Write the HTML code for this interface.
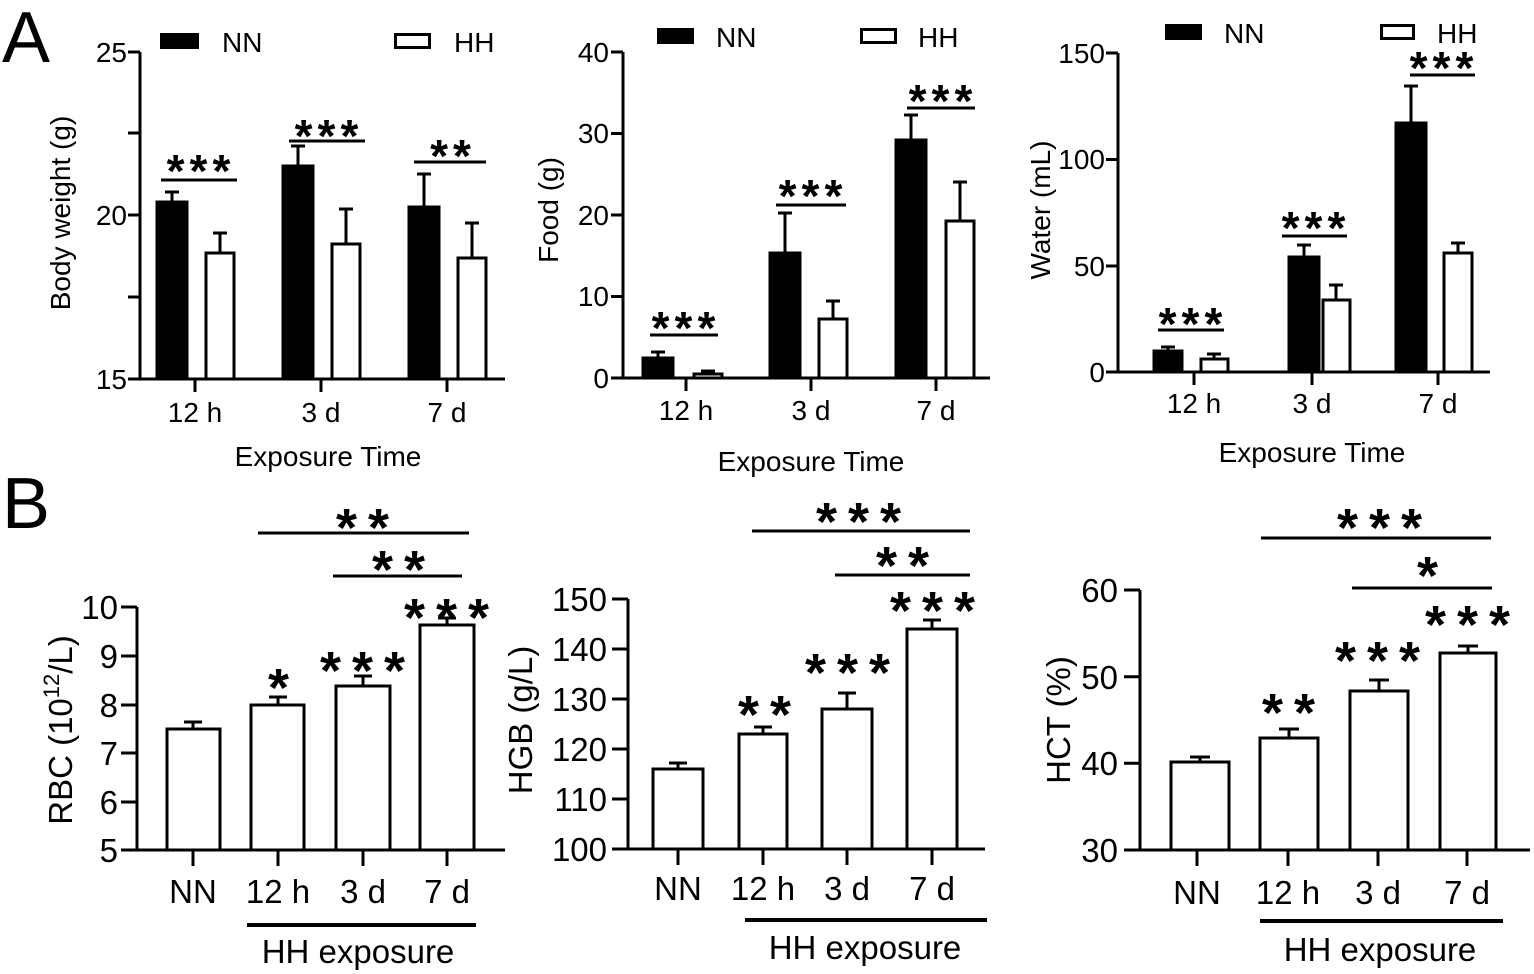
<!DOCTYPE html>
<html><head><meta charset="utf-8"><style>
html,body{margin:0;padding:0;background:#fff}
svg{display:block}
text{font-family:"Liberation Sans",Arial,sans-serif;fill:#000}
.t text,text.t{font-size:28px}
.tb text{font-size:33px}
.sa text{font-size:46px;font-weight:bold;letter-spacing:5px}
.sb text{font-size:54px;font-weight:bold;letter-spacing:11px}
</style></head><body>
<svg width="1534" height="974" viewBox="0 0 1534 974" xmlns="http://www.w3.org/2000/svg">
<g stroke="#000" fill="none" stroke-width="3">
<path d="M140 52V379H505M128 52H140M128 133H140M128 215H140M128 297H140M128 379H140M195 379V392M321 379V392M447 379V392"/>
<rect x="157" y="202" width="30" height="177" fill="#000"/>
<rect x="206" y="253" width="28" height="126"/>
<rect x="283" y="166" width="30" height="213" fill="#000"/>
<rect x="332" y="244" width="28" height="135"/>
<rect x="409" y="207" width="30" height="172" fill="#000"/>
<rect x="458" y="258" width="28" height="121"/>
<path d="M172 202V192M165 192H179M220 253V233M213 233H227M298 166V146M291 146H305M346 244V209M339 209H353M424 207V174M417 174H431M472 258V223M465 223H479"/>
<path d="M161 180H237M289 141H365M414 162H486"/>
<path d="M623 52V378H990M611 52H623M611 133.5H623M611 215H623M611 296.5H623M611 378H623M686 378V391M811 378V391M936 378V391"/>
<rect x="643" y="358" width="30" height="20" fill="#000"/>
<rect x="694" y="374" width="28" height="4"/>
<rect x="770" y="253" width="30" height="125" fill="#000"/>
<rect x="819" y="319" width="28" height="59"/>
<rect x="896" y="140" width="30" height="238" fill="#000"/>
<rect x="946" y="221" width="28" height="157"/>
<path d="M658 358V352M651 352H665M708 374V371M701 371H715M785 253V213M778 213H792M833 319V301M826 301H840M911 140V115M904 115H918M960 221V182M953 182H967"/>
<path d="M650 335H718M776 205H846M907 108H975"/>
<path d="M1118 53V372H1490M1106 53H1118M1106 159.5H1118M1106 266H1118M1106 372H1118M1194 372V385M1312 372V385M1438 372V385"/>
<rect x="1154" y="351" width="28" height="21" fill="#000"/>
<rect x="1201" y="359" width="27" height="13"/>
<rect x="1289" y="257" width="30" height="115" fill="#000"/>
<rect x="1323" y="300" width="27" height="72"/>
<rect x="1396" y="123" width="30" height="249" fill="#000"/>
<rect x="1444" y="253" width="28" height="119"/>
<path d="M1168 351V347M1161 347H1175M1214 359V354M1207 354H1221M1304 257V245M1297 245H1311M1336 300V285M1329 285H1343M1411 123V86M1404 86H1418M1458 253V243M1451 243H1465"/>
<path d="M1158 330H1224M1282 236H1347M1410 75H1475"/>
<path d="M137 607V850H505M121 607H137M121 656H137M121 705H137M121 753H137M121 802H137M121 850H137M193 850V866M278 850V866M363 850V866M447 850V866"/>
<rect x="167" y="729" width="53" height="121"/>
<rect x="251" y="705" width="53" height="145"/>
<rect x="336" y="686" width="54" height="164"/>
<rect x="420" y="625" width="54" height="225"/>
<path d="M193 729V722M184 722H202M278 705V697M269 697H287M363 686V676M354 676H372M447 625V618M438 618H456"/>
<path d="M258 533H469M333 576H462"/>
<path d="M247 925H476" stroke-width="4"/>
<path d="M628 599V849H985M612 599H628M612 649H628M612 699H628M612 749H628M612 799H628M612 849H628M678 849V865M763 849V865M847 849V865M932 849V865"/>
<rect x="653" y="769" width="50" height="80"/>
<rect x="739" y="734" width="48" height="115"/>
<rect x="822" y="709" width="50" height="140"/>
<rect x="907" y="629" width="50" height="220"/>
<path d="M678 769V763M669 763H687M763 734V727M754 727H772M847 709V693M838 693H856M932 629V620M923 620H941"/>
<path d="M752 531H970M835 575H970"/>
<path d="M745 920H987" stroke-width="4"/>
<path d="M1140 590V850H1530M1124 590H1140M1124 676.7H1140M1124 763.3H1140M1124 850H1140M1197 850V866M1288 850V866M1378 850V866M1467 850V866"/>
<rect x="1171" y="762" width="58" height="88"/>
<rect x="1260" y="738" width="58" height="112"/>
<rect x="1350" y="691" width="58" height="159"/>
<rect x="1440" y="653" width="56" height="197"/>
<path d="M1200 762V757M1190 757H1210M1289 738V729M1279 729H1299M1379 691V680M1369 680H1389M1468 653V646M1458 646H1478"/>
<path d="M1261 538H1491M1352 588H1492"/>
<path d="M1260 921H1503" stroke-width="4"/>
</g>
<rect x="160" y="33" width="39" height="16" fill="#000"/>
<rect x="395.5" y="34.5" width="34" height="13" fill="none" stroke="#000" stroke-width="3"/>
<rect x="657" y="28" width="37" height="16" fill="#000"/>
<rect x="861.5" y="29.5" width="34" height="13" fill="none" stroke="#000" stroke-width="3"/>
<rect x="1165" y="24" width="37" height="16" fill="#000"/>
<rect x="1381.5" y="25.5" width="32" height="13" fill="none" stroke="#000" stroke-width="3"/>
<g class="t">
<text x="222" y="52">NN</text><text x="454" y="52">HH</text>
<text x="716" y="47">NN</text><text x="918" y="47">HH</text>
<text x="1224" y="43">NN</text><text x="1437" y="43">HH</text>
</g>
<text x="2" y="62" style="font-size:72px">A</text>
<text x="2" y="528" style="font-size:72px">B</text>
<g class="t" text-anchor="end">
<text x="127" y="62">25</text><text x="127" y="225">20</text><text x="127" y="389">15</text>
<text x="609" y="62">40</text><text x="609" y="143">30</text><text x="609" y="225">20</text><text x="609" y="306">10</text><text x="609" y="388">0</text>
<text x="1105" y="63">150</text><text x="1105" y="169">100</text><text x="1105" y="276">50</text><text x="1105" y="382">0</text>
</g>
<g class="t" text-anchor="middle">
<text x="195" y="422">12 h</text><text x="321" y="422">3 d</text><text x="447" y="422">7 d</text>
<text x="686" y="420">12 h</text><text x="811" y="420">3 d</text><text x="936" y="420">7 d</text>
<text x="1194" y="413">12 h</text><text x="1312" y="413">3 d</text><text x="1438" y="413">7 d</text>
<text x="328" y="466">Exposure Time</text><text x="811" y="471">Exposure Time</text><text x="1312" y="462">Exposure Time</text>
<text transform="translate(70 213) rotate(-90)">Body weight (g)</text>
<text transform="translate(558 210) rotate(-90)">Food (g)</text>
<text transform="translate(1050 210) rotate(-90)">Water (mL)</text>
</g>
<g class="sa" text-anchor="middle">
<text x="201" y="187">***</text><text x="329" y="152">***</text><text x="453" y="172">**</text>
<text x="686" y="344">***</text><text x="813" y="212">***</text><text x="943" y="117">***</text>
<text x="1193" y="340">***</text><text x="1316" y="244">***</text><text x="1444" y="84">***</text>
</g>
<g class="tb" text-anchor="end">
<text x="118" y="619">10</text><text x="118" y="668">9</text><text x="118" y="717">8</text><text x="118" y="765">7</text><text x="118" y="814">6</text><text x="118" y="862">5</text>
<text x="607" y="611">150</text><text x="607" y="661">140</text><text x="607" y="711">130</text><text x="607" y="761">120</text><text x="607" y="811">110</text><text x="607" y="861">100</text>
<text x="1118" y="602">60</text><text x="1118" y="689">50</text><text x="1118" y="775">40</text><text x="1118" y="862">30</text>
</g>
<g class="tb" text-anchor="middle">
<text x="193" y="903">NN</text><text x="278" y="903">12 h</text><text x="363" y="903">3 d</text><text x="447" y="903">7 d</text>
<text x="678" y="900">NN</text><text x="763" y="900">12 h</text><text x="847" y="900">3 d</text><text x="932" y="900">7 d</text>
<text x="1197" y="904">NN</text><text x="1288" y="904">12 h</text><text x="1378" y="904">3 d</text><text x="1467" y="904">7 d</text>
<text x="358" y="963">HH exposure</text><text x="865" y="959">HH exposure</text><text x="1380" y="961">HH exposure</text>
<text transform="translate(72 730) rotate(-90)">RBC (10<tspan dy="-13" style="font-size:22px">12</tspan><tspan dy="13">/L)</tspan></text>
<text transform="translate(532 720) rotate(-90)">HGB (g/L)</text>
<text transform="translate(1070 720) rotate(-90)">HCT (%)</text>
</g>
<g class="sb" text-anchor="middle">
<text x="368" y="546">**</text><text x="404" y="588">**</text>
<text x="284" y="706">*</text><text x="368" y="689">***</text><text x="452" y="636">***</text>
<text x="864" y="540">***</text><text x="908" y="584">**</text>
<text x="770" y="733">**</text><text x="853" y="691">***</text><text x="938" y="629">***</text>
<text x="1385" y="546">***</text><text x="1433" y="594">*</text>
<text x="1294" y="731">**</text><text x="1383" y="679">***</text><text x="1473" y="643">***</text>
</g>
</svg>
</body></html>
